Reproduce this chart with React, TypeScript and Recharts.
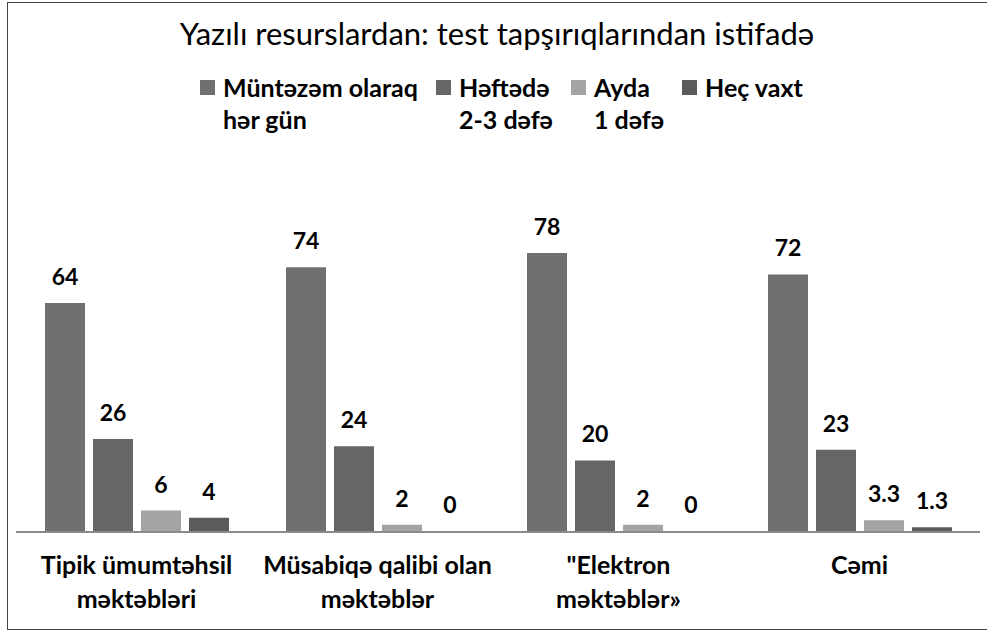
import React from 'react';
import { BarChart, Bar, XAxis, YAxis, LabelList, Rectangle } from 'recharts';

const title = 'Yazılı resurslardan: test tapşırıqlarından istifadə';

const categories = [
  ['Tipik ümumtəhsil', 'məktəbləri'],
  ['Müsabiqə qalibi olan', 'məktəblər'],
  ['"Elektron', 'məktəblər»'],
  ['Cəmi'],
];

const seriesNames = [
  ['Müntəzəm olaraq', 'hər gün'],
  ['Həftədə', '2-3 dəfə'],
  ['Ayda', '1 dəfə'],
  ['Heç vaxt'],
];

const regular = [64, 74, 78, 72];
const weekly = [26, 24, 20, 23];
const monthly = [6, 2, 2, 3.3];
const never = [4, 0, 0, 1.3];

const colors = ['#707070', '#666666', '#a4a4a4', '#5b5b5b'];
const seriesKeys = ['regular', 'weekly', 'monthly', 'never'];
const seriesValues = [regular, weekly, monthly, never];

const chartData = categories.map((c, i) => {
  const row: any = { name: c.join('\n') };
  seriesKeys.forEach((k, j) => {
    row[k] = seriesValues[j][i];
  });
  return row;
});

const FONT = 'Lato, "Open Sans", sans-serif';

const CategoryTick = (props: any) => {
  const { x, y, payload } = props;
  const lines = String(payload.value).split('\n');
  return (
    <text x={x} y={y} textAnchor="middle" fontFamily={FONT} fontWeight={700} fontSize={25} fill="#000">
      {lines.map((l, i) => (
        <tspan key={i} x={x} dy={i === 0 ? 34 : 34}>
          {l}
        </tspan>
      ))}
    </text>
  );
};

// zero values get a 1px placeholder so their label is still drawn, but no visible bar
const BarShape = (props: any) => {
  if (!props.value) return null;
  return <Rectangle {...props} />;
};

const App = () => {
  return (
    <div style={{ position: 'absolute', left: 0, top: 0, width: 987, height: 631, overflow: 'hidden', background: '#fff' }}>
      <div
        style={{
          position: 'absolute',
          left: 7,
          top: 2,
          width: 1000,
          height: 628,
          borderTop: '1.5px solid #444',
          borderLeft: '1.5px solid #444',
          borderBottom: '1.5px solid #444',
          boxSizing: 'border-box',
        }}
      />
      <div
        style={{
          position: 'absolute',
          left: 0,
          top: 14,
          width: 994,
          textAlign: 'center',
          fontFamily: FONT,
          fontSize: 31,
          color: '#000',
        }}
      >
        {title}
      </div>
      <div
        style={{
          position: 'absolute',
          left: 200,
          top: 71,
          display: 'flex',
          gap: 18,
          fontFamily: FONT,
          fontWeight: 700,
          fontSize: 25,
          lineHeight: '32px',
          color: '#000',
        }}
      >
        {seriesNames.map((n, i) => (
          <div key={i} style={{ display: 'flex', alignItems: 'flex-start' }}>
            <div style={{ width: 15, height: 15, background: colors[i], marginTop: 9, marginRight: 8 }} />
            <div>
              {n.map((l, j) => (
                <div key={j}>{l}</div>
              ))}
            </div>
          </div>
        ))}
      </div>
      <div style={{ position: 'absolute', left: 0, top: 0 }}>
        <BarChart
          width={987}
          height={631}
          data={chartData}
          margin={{ top: 210, right: 7, bottom: 10, left: 16 }}
          barGap={8}
          barSize={40}
        >
          <XAxis
            dataKey="name"
            axisLine={{ stroke: '#8a8a8a', strokeWidth: 2 }}
            tickLine={false}
            tick={<CategoryTick />}
            height={89}
            interval={0}
          />
          <YAxis hide domain={[0, 90]} />
          {seriesKeys.map((k, i) => (
            <Bar
              key={k}
              dataKey={k}
              fill={colors[i]}
              minPointSize={1}
              shape={<BarShape />}
              isAnimationActive={false}
            >
              <LabelList
                dataKey={k}
                position="top"
                offset={18}
                fontFamily={FONT}
                fontWeight={700}
                fontSize={23}
                fill="#000"
              />
            </Bar>
          ))}
        </BarChart>
      </div>
    </div>
  );
};

export default App;
